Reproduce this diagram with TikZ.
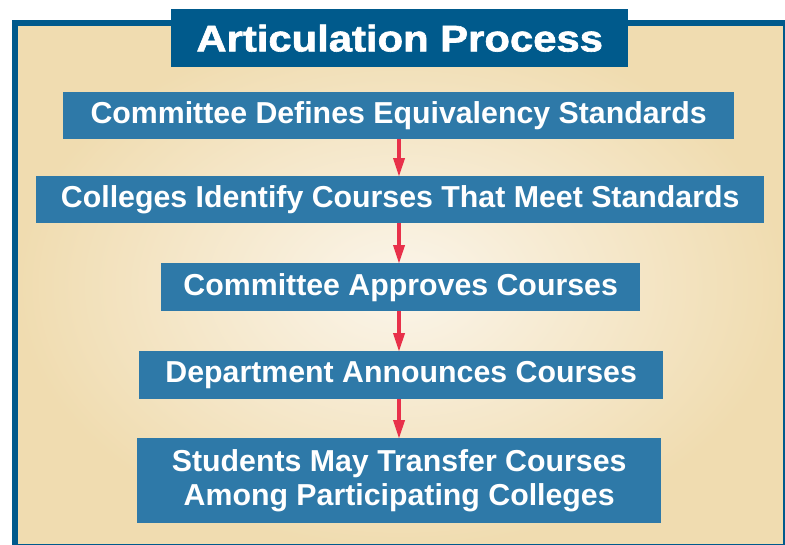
\documentclass[tikz,border=0pt]{standalone}
\usepackage{fontspec}
\setmainfont{Liberation Sans}
\newfontfamily\titlefont[FakeBold=1.6]{Liberation Sans Bold}
\usetikzlibrary{arrows.meta}
\definecolor{framebl}{HTML}{005A8C}
\definecolor{boxbl}{HTML}{2E79A8}
\definecolor{arrred}{HTML}{E8304A}
\definecolor{beigeout}{HTML}{F0DCB0}
\definecolor{beigein}{HTML}{FBF5EA}
\tikzset{
  stepbox/.style={fill=boxbl, text=white, font=\bfseries\fontsize{30.3}{34}\selectfont, inner sep=0pt, align=center, anchor=north west},
  flowarrow/.style={draw=arrred, line width=3.6pt, -{Triangle[length=19pt,width=11pt]}, shorten >=-1pt},
}
\begin{document}
\begin{tikzpicture}[x=1pt,y=-1pt]
\useasboundingbox (0,0) rectangle (785,544);
\begin{scope}
\clip (0,0) rectangle (785,544);
\shade[inner color=beigein, outer color=beigeout] (15,23) rectangle (786,548);
\draw[framebl, line width=6pt] (15,23) rectangle (785.5,547);
\end{scope}
\node[fill=framebl, text=white, inner sep=0pt, minimum width=457pt, minimum height=58pt, anchor=north west, font=\titlefont\fontsize{37}{40}\selectfont] (title) at (171,9) {\scalebox{1.13}[1]{Articulation Process}};
\node[stepbox, minimum width=671pt, minimum height=47pt] (b1) at (63,92) {Committee Defines Equivalency Standards};
\node[stepbox, minimum width=728pt, minimum height=47pt] (b2) at (36,176) {Colleges Identify Courses That Meet Standards};
\node[stepbox, minimum width=479pt, minimum height=48pt] (b3) at (161,263) {Committee Approves Courses};
\node[stepbox, minimum width=524pt, minimum height=48pt] (b4) at (139,351) {Department Announces Courses};
\node[stepbox, minimum width=524pt, minimum height=85pt] (b5) at (137,438) {Students May Transfer Courses\\Among Participating Colleges};
\draw[flowarrow] (b1.south -| 399,0) -- (b2.north -| 399,0);
\draw[flowarrow] (b2.south -| 399,0) -- (b3.north -| 399,0);
\draw[flowarrow] (b3.south -| 399,0) -- (b4.north -| 399,0);
\draw[flowarrow] (b4.south -| 399,0) -- (b5.north -| 399,0);
\end{tikzpicture}
\end{document}
